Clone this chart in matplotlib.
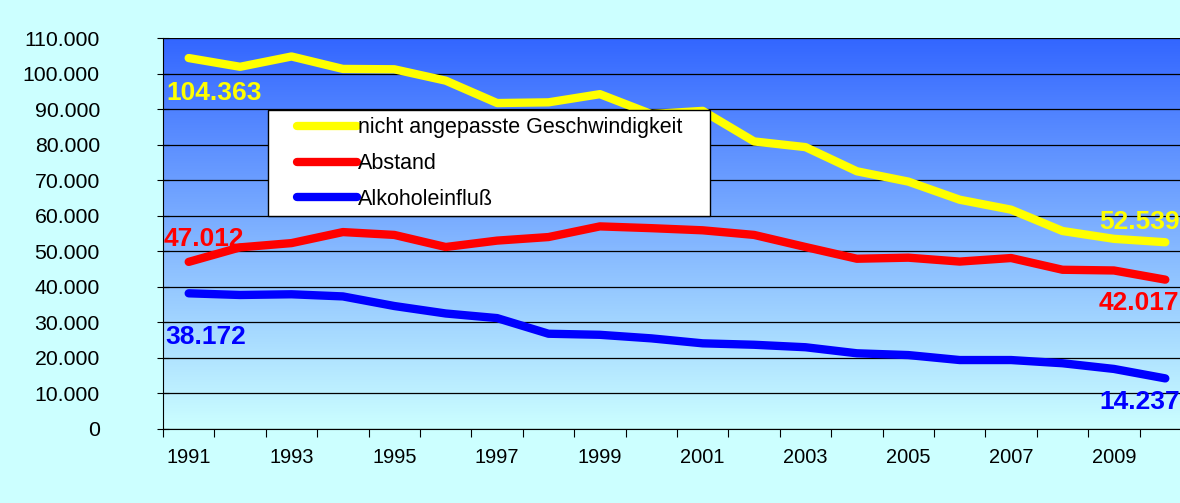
"""Unfallursachen 1991-2010: line chart with gradient plot area."""

import matplotlib as mpl
import matplotlib.pyplot as plt
import numpy as np
from matplotlib.colors import LinearSegmentedColormap
from matplotlib.patches import Rectangle
from matplotlib.ticker import FuncFormatter

mpl.rcParams['font.family'] = ['Liberation Sans', 'DejaVu Sans']

years = list(range(1991, 2011))
geschwindigkeit = [104363, 101900, 104800, 101300, 101200, 98000, 91700, 91900,
                   94200, 88600, 89500, 80900, 79300, 72500, 69600, 64500,
                   61700, 55700, 53500, 52539]
abstand = [47012, 51100, 52300, 55400, 54600, 51200, 53000, 54000,
           57000, 56500, 55900, 54600, 51200, 47900, 48200, 47100,
           48100, 44800, 44600, 42017]
alkohol = [38172, 37700, 37900, 37300, 34600, 32500, 31200, 26800,
           26500, 25500, 24100, 23700, 23000, 21300, 20800, 19400,
           19400, 18500, 16900, 14237]
series_names = ['nicht angepasste Geschwindigkeit', 'Abstand', 'Alkoholeinfluß']
series_colors = ['#FFFF00', '#FF0000', '#0000FF']

W, H = 1180, 503
fig = plt.figure(figsize=(W / 100, H / 100), dpi=100, facecolor='#CCFFFF')
# plot area runs past the right edge of the picture, as in the original
ax = fig.add_axes([163 / W, (H - 429) / H, 1028 / W, 391 / H])

x = np.arange(len(years))
ax.set_xlim(-0.5, len(years) - 0.5)
ax.set_ylim(0, 110000)

# vertical gradient background
cmap = LinearSegmentedColormap.from_list('bg', ['#CCFFFF', '#3366FF'])
grad = np.linspace(0, 1, 256).reshape(-1, 1)
ax.imshow(grad, cmap=cmap, origin='lower', aspect='auto', zorder=0,
          extent=[-0.5, len(years) - 0.5, 0, 110000])

for vals, col, name in zip([geschwindigkeit, abstand, alkohol],
                           series_colors, series_names):
    ax.plot(x, vals, color=col, lw=6, solid_capstyle='round',
            solid_joinstyle='round', label=name, zorder=3)

# start / end value labels (offsets in pixels, y up)
label_offsets = [((-22, -35), (-66, 20)),
                 ((-25, 23), (-67, -23)),
                 ((-23, -44), (-66, -24))]
for vals, col, (off0, off1) in zip([geschwindigkeit, abstand, alkohol],
                                    series_colors, label_offsets):
    for idx, off in [(0, off0), (-1, off1)]:
        txt = f'{vals[idx]:,}'.replace(',', '.')
        ax.annotate(txt, (x[idx], vals[idx]), xytext=off,
                    textcoords='offset pixels', ha='left', va='center',
                    color=col, fontsize=19, fontweight='bold', zorder=6,
                    annotation_clip=False)

# axes styling
for side in ['top', 'right']:
    ax.spines[side].set_visible(False)
ax.spines['left'].set_color('black')
ax.spines['bottom'].set_color('black')
ax.set_yticks(np.arange(0, 110001, 10000))
ax.yaxis.set_major_formatter(
    FuncFormatter(lambda v, p: f'{int(v):,}'.replace(',', '.')))
ax.tick_params(axis='y', length=9, width=0.8, direction='inout', pad=41,
               labelsize=15.3, colors='black')
ax.grid(axis='y', color='black', lw=0.9, zorder=1)
ax.set_axisbelow(False)

ax.set_xticks(np.arange(-0.5, len(years)))
ax.set_xticklabels([])
ax.tick_params(axis='x', which='major', length=6, width=0.8, direction='out')
ax.set_xticks(x[::2], minor=True)
ax.set_xticklabels([str(y) for y in years[::2]], minor=True)
ax.tick_params(axis='x', which='minor', length=0, pad=14, labelsize=14.4)

# legend box
ax.add_patch(Rectangle(((268 - 163) / 1028, (429 - 216) / 391),
                       442 / 1028, 106 / 391, transform=ax.transAxes,
                       facecolor='white', edgecolor='black', lw=1, zorder=4.5))
leg = ax.legend(loc='upper left', bbox_to_anchor=((291 - 163) / 1028,
                                                  (429 - 111) / 391),
                frameon=False, fontsize=15.5, handlelength=2.75,
                handletextpad=0.05, labelspacing=0.68, borderpad=0.3,
                borderaxespad=0)
leg.set_zorder(5)

fig.savefig('out.png', dpi=100, facecolor=fig.get_facecolor())
